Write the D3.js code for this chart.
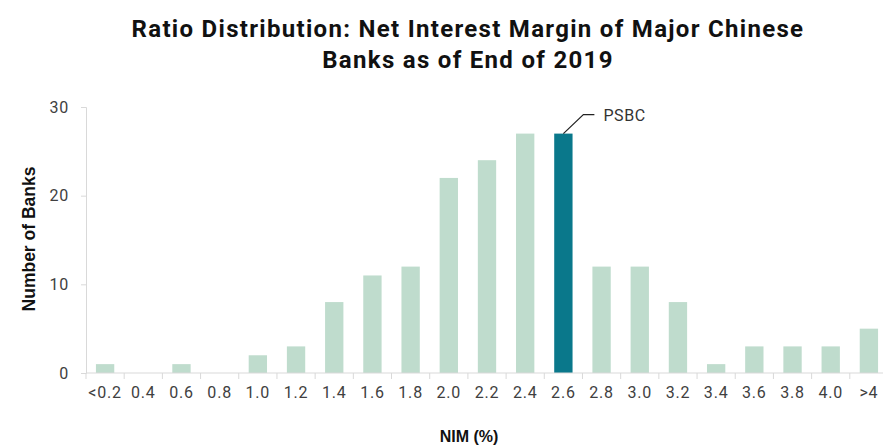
<!DOCTYPE html>
<html>
<head>
	<meta charset="utf-8">
	<title></title>
	<script src="https://d3js.org/d3.v7.min.js"></script>
	<style>
		body{ margin:0; background:#fff; }
		text{ font-family: Roboto, "Liberation Sans", sans-serif; }
		.tick text{ font-size:16px; fill:#404040; letter-spacing:0.8px; }
		.tick line, .domain{ stroke:#d9d9d9; }
		.title{ font-size:24px; font-weight:bold; fill:#111; letter-spacing:1.3px; }
		.axis-title{ font-family:"Liberation Sans", Arial, sans-serif; font-weight:bold; fill:#111; }
	</style>
</head>
<body>
	<svg width='883' height='445'></svg>
<script>
	var categories = ['<0.2','0.4','0.6','0.8','1.0','1.2','1.4','1.6','1.8','2.0','2.2','2.4','2.6','2.8','3.0','3.2','3.4','3.6','3.8','4.0','>4'];
	var counts = [1, 0, 1, 0, 2, 3, 8, 11, 12, 22, 24, 27, 27, 12, 12, 8, 1, 3, 3, 3, 5];
	var yTicks = [0, 10, 20, 30];
	var highlight = '2.6';
	var highlightLabel = 'PSBC';

	(function(){
		var svg = d3.select('svg');
		var left = 86, right = 888, plotTop = 107, bottom = 373;

		var x = d3.scaleBand().domain(categories).range([left, right]).paddingInner(0.52).paddingOuter(0.26);
		var y = d3.scaleLinear().domain([0, 30]).range([bottom, plotTop]);

		// title
		svg.append('text').attr('class', 'title').attr('x', 468).attr('y', 37)
			.attr('text-anchor', 'middle').text('Ratio Distribution: Net Interest Margin of Major Chinese');
		svg.append('text').attr('class', 'title').attr('x', 468).attr('y', 68)
			.attr('text-anchor', 'middle').text('Banks as of End of 2019');

		// bars
		svg.selectAll('rect.bar').data(categories).enter()
			.append('rect')
			.attr('class', 'bar')
			.attr('x', function(d){ return x(d); })
			.attr('width', x.bandwidth())
			.attr('y', function(d, i){ return y(counts[i]); })
			.attr('height', function(d, i){ return bottom - y(counts[i]); })
			.attr('fill', function(d){ return d === highlight ? '#0a788b' : '#bfdccd'; });

		// y axis
		svg.append('g').attr('transform', 'translate(' + left + ',0)')
			.call(d3.axisLeft(y).tickValues(yTicks).tickSize(5).tickPadding(12));

		// x axis with ticks at band edges
		var xAxis = svg.append('g').attr('transform', 'translate(0,' + bottom + ')')
			.call(d3.axisBottom(x).tickSize(0).tickPadding(14));
		xAxis.select('.domain').remove();
		xAxis.append('line').attr('x1', left).attr('x2', 883).attr('stroke', '#d9d9d9');
		var step = x.step();
		xAxis.selectAll('line.edge').data(categories).enter()
			.append('line').attr('class', 'edge')
			.attr('x1', function(d){ return x(d) - x.paddingOuter() * step; })
			.attr('x2', function(d){ return x(d) - x.paddingOuter() * step; })
			.attr('y1', 0).attr('y2', 6).attr('stroke', '#d9d9d9');

		// axis titles
		svg.append('text').attr('class', 'axis-title').style('font-size', '17.5px')
			.attr('transform', 'translate(35,239) rotate(-90)')
			.attr('text-anchor', 'middle').text('Number of Banks');
		svg.append('text').attr('class', 'axis-title').style('font-size', '16px')
			.attr('x', 469).attr('y', 442)
			.attr('text-anchor', 'middle').text('NIM (%)');

		// callout
		var hi = categories.indexOf(highlight);
		var cx = x(highlight) + x.bandwidth() / 2, cy = y(counts[hi]);
		svg.append('path')
			.attr('d', 'M' + cx + ',' + cy + 'L' + (cx + 20) + ',' + (cy - 19) + 'H' + (cx + 31))
			.attr('fill', 'none').attr('stroke', '#222').attr('stroke-width', 1.2);
		svg.append('text').attr('x', cx + 40).attr('y', cy - 13)
			.style('font-size', '16px').style('fill', '#333').style('letter-spacing', '0.6px').text(highlightLabel);
	})();
</script>
</body>
</html>
